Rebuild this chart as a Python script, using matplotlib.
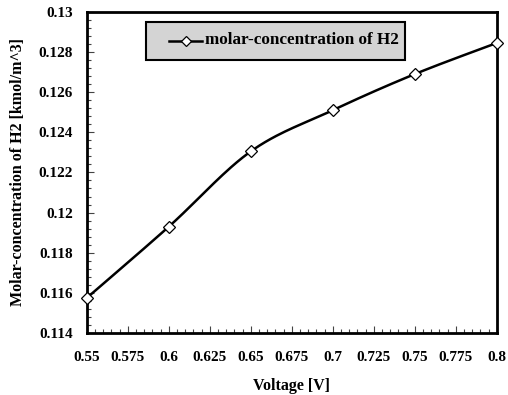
import numpy as np
import matplotlib
matplotlib.use("Agg")
import matplotlib.pyplot as plt
from matplotlib.ticker import MultipleLocator, FixedLocator
from matplotlib.lines import Line2D
from matplotlib.patches import Rectangle

voltage = [0.55, 0.60, 0.65, 0.70, 0.75, 0.80]
conc_h2 = [0.11575, 0.1193, 0.12305, 0.1251, 0.1269, 0.12845]
xticks = [0.55, 0.575, 0.6, 0.625, 0.65, 0.675, 0.7, 0.725, 0.75, 0.775, 0.8]
xtick_labels = ["0.55", "0.575", "0.6", "0.625", "0.65", "0.675", "0.7", "0.725", "0.75", "0.775", "0.8"]
yticks = [0.114, 0.116, 0.118, 0.12, 0.122, 0.124, 0.126, 0.128, 0.13]
ytick_labels = ["0.114", "0.116", "0.118", "0.12", "0.122", "0.124", "0.126", "0.128", "0.13"]
series_label = 'molar-concentration of H2'

plt.rcParams['font.family'] = ['Liberation Serif', 'DejaVu Serif']
plt.rcParams['font.weight'] = 'bold'

W, H = 508, 395


def smooth_curve(x, y, n=30, tension=1/6):
    # Excel-like smoothed line: cubic Bezier segments through the data points
    x = np.asarray(x, float); y = np.asarray(y, float)
    px, py = [], []
    for i in range(len(x) - 1):
        x0, y0 = (x[i-1], y[i-1]) if i > 0 else (x[i], y[i])
        x3, y3 = (x[i+2], y[i+2]) if i + 2 < len(x) else (x[i+1], y[i+1])
        c1x = x[i] + (x[i+1] - x0) * tension
        c1y = y[i] + (y[i+1] - y0) * tension
        c2x = x[i+1] - (x3 - x[i]) * tension
        c2y = y[i+1] - (y3 - y[i]) * tension
        t = np.linspace(0, 1, n)
        bx = (1-t)**3*x[i] + 3*(1-t)**2*t*c1x + 3*(1-t)*t**2*c2x + t**3*x[i+1]
        by = (1-t)**3*y[i] + 3*(1-t)**2*t*c1y + 3*(1-t)*t**2*c2y + t**3*y[i+1]
        px.extend(bx); py.extend(by)
    return np.array(px), np.array(py)


fig = plt.figure(figsize=(W / 100, H / 100), dpi=100)
ax = fig.add_axes([0.171, 0.157, 0.807, 0.813])

sx, sy = smooth_curve(voltage, conc_h2)
ax.plot(sx, sy, color='black', lw=1.8, zorder=3)
ax.plot(voltage, conc_h2, linestyle='none', marker='D', markersize=6,
        markerfacecolor='white', markeredgecolor='black', markeredgewidth=0.9,
        zorder=4, clip_on=False)

ax.set_xlim(0.55, 0.8)
ax.set_ylim(0.114, 0.13)
ax.xaxis.set_major_locator(FixedLocator(xticks))
ax.set_xticklabels(xtick_labels)
ax.yaxis.set_major_locator(FixedLocator(yticks))
ax.set_yticklabels(ytick_labels)
ax.xaxis.set_minor_locator(MultipleLocator(0.005))
ax.yaxis.set_minor_locator(MultipleLocator(0.0004))

ax.tick_params(which='both', direction='in', top=False, right=False,
               labelsize=11, width=0.8, color='#444444')
ax.tick_params(which='major', length=5)
ax.tick_params(which='minor', length=3)
ax.tick_params(axis='y', which='major', pad=10)
ax.tick_params(axis='x', which='major', pad=13)
for lab in ax.get_xticklabels() + ax.get_yticklabels():
    lab.set_fontweight('bold')

for s in ax.spines.values():
    s.set_linewidth(2.0)
    s.set_color('black')

ax.set_xlabel('Voltage [V]', fontsize=11.5, fontweight='bold', labelpad=10)
ax.set_ylabel('Molar-concentration of H2 [kmol/m^3]', fontsize=11.5,
              fontweight='bold', labelpad=9)

# legend box (Excel style)
def fx(px):
    return px / W

def fy(py):
    return 1 - py / H

box = Rectangle((fx(146), fy(60)), fx(405) - fx(146), fy(22) - fy(60),
                transform=fig.transFigure, facecolor='#d4d4d4',
                edgecolor='black', linewidth=1.5, zorder=5)
fig.patches.append(box)
fig.lines.append(Line2D([fx(169), fx(202)], [fy(41), fy(41)], transform=fig.transFigure,
                        color='black', lw=1.8, zorder=6))
fig.lines.append(Line2D([fx(186)], [fy(41)], transform=fig.transFigure,
                        linestyle='none', marker='D', markersize=5.5,
                        markerfacecolor='white', markeredgecolor='black',
                        markeredgewidth=0.9, zorder=7))
fig.text(fx(205), fy(40), series_label, fontsize=12.3, fontweight='bold',
         va='center', ha='left', zorder=8)

fig.savefig('out.png', dpi=100, facecolor='white')
